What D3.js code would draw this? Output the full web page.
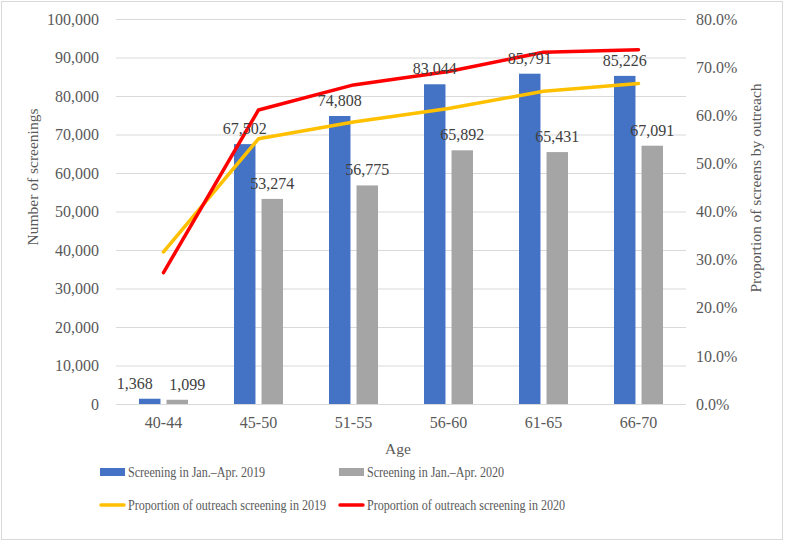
<!DOCTYPE html>
<html><head><meta charset="utf-8">
<script src="https://cdn.jsdelivr.net/npm/d3@7"></script>
<style>body{margin:0;background:#fff}svg{display:block}</style>
</head><body>
<svg id="c" width="788" height="542"></svg>
<script>
const categories = ["40-44","45-50","51-55","56-60","61-65","66-70"];
const screening2019 = [1368,67502,74808,83044,85791,85226];
const screening2020 = [1099,53274,56775,65892,65431,67091];
const outreach2019 = [31.6,55.1,58.6,61.4,65.0,66.6];
const outreach2020 = [27.3,61.1,66.3,69.1,73.1,73.6];
const leftTicks = [0,10000,20000,30000,40000,50000,60000,70000,80000,90000,100000];
const rightTicks = [0,10,20,30,40,50,60,70,80];
const seriesNames = ["Screening in Jan.\u2013Apr. 2019","Screening in Jan.\u2013Apr. 2020","Proportion of outreach screening in 2019","Proportion of outreach screening in 2020"];

const svg = d3.select("#c");
const FF = "Liberation Serif";
const L = 116, R = 686, T = 19, B = 404;

svg.append("rect").attr("x",1.5).attr("y",1.5).attr("width",781).attr("height",538)
  .attr("fill","#fff").attr("stroke","#d9d9d9").attr("stroke-width",1);

const x = d3.scaleBand().domain(categories).range([L,R]);
const y = d3.scaleLinear().domain([0,100000]).range([B,T]);
const y2 = d3.scaleLinear().domain([0,80]).range([B,T]);
const inner = d3.scaleBand().domain(["a","b"]).range([23,x.bandwidth()-23]).paddingInner(0.22);

svg.append("g").selectAll("line").data(leftTicks).join("line")
  .attr("x1",L).attr("x2",R).attr("y1",d=>y(d)+0.5).attr("y2",d=>y(d)+0.5)
  .attr("stroke","#d9d9d9").attr("stroke-width",1);

function styleAxis(g){
  g.attr("font-family",FF).attr("font-size",16);
  g.select(".domain").remove();
  g.selectAll("text").attr("font-family",FF).attr("font-size",16).attr("fill","#595959");
}
const ga = svg.append("g").attr("transform",`translate(${L-17},0)`)
  .call(d3.axisLeft(y).tickValues(leftTicks).tickSize(0).tickPadding(0).tickFormat(d3.format(",")));
styleAxis(ga);
const gb = svg.append("g").attr("transform",`translate(${R+10},0)`)
  .call(d3.axisRight(y2).tickValues(rightTicks).tickSize(0).tickPadding(0).tickFormat(d=>d.toFixed(1)+"%"));
styleAxis(gb);
const gx = svg.append("g").attr("transform",`translate(0,${B+13})`)
  .call(d3.axisBottom(x).tickSize(0).tickPadding(0));
styleAxis(gx);

const g = svg.append("g");
g.selectAll(".b19").data(categories).join("rect").attr("class","b19")
  .attr("x",(d)=>x(d)+inner("a")).attr("width",inner.bandwidth())
  .attr("y",(d,i)=>y(screening2019[i])).attr("height",(d,i)=>B-y(screening2019[i]))
  .attr("fill","#4472c4");
g.selectAll(".b20").data(categories).join("rect").attr("class","b20")
  .attr("x",(d)=>x(d)+inner("b")).attr("width",inner.bandwidth())
  .attr("y",(d,i)=>y(screening2020[i])).attr("height",(d,i)=>B-y(screening2020[i]))
  .attr("fill","#a5a5a5");

const cx = d=>x(d)+x.bandwidth()/2;
const line = d3.line().x((d,i)=>cx(categories[i])).y(d=>y2(d));
svg.append("path").datum(outreach2019).attr("d",line).attr("fill","none")
  .attr("stroke","#ffc000").attr("stroke-width",3.5).attr("stroke-linejoin","round").attr("stroke-linecap","round");
svg.append("path").datum(outreach2020).attr("d",line).attr("fill","none")
  .attr("stroke","#ff0000").attr("stroke-width",3.5).attr("stroke-linejoin","round").attr("stroke-linecap","round");

// data labels (small labels nudged apart so they do not collide, as in the original)
const fmt = d3.format(",");
const nudge = (i, side) => (i === 0 ? (side === "a" ? -15 : 10) : 0);
const lab = svg.append("g");
lab.selectAll(".l19").data(categories).join("text").attr("class","l19")
  .attr("font-family",FF).attr("font-size",16).attr("fill","#404040").attr("text-anchor","middle")
  .attr("x",(d,i)=>x(d)+inner("a")+inner.bandwidth()/2+nudge(i,"a"))
  .attr("y",(d,i)=>y(screening2019[i])-10).text((d,i)=>fmt(screening2019[i]));
lab.selectAll(".l20").data(categories).join("text").attr("class","l20")
  .attr("font-family",FF).attr("font-size",16).attr("fill","#404040").attr("text-anchor","middle")
  .attr("x",(d,i)=>x(d)+inner("b")+inner.bandwidth()/2+nudge(i,"b"))
  .attr("y",(d,i)=>y(screening2020[i])-10).text((d,i)=>fmt(screening2020[i]));

function title(t,tr){
  return svg.append("text").attr("transform",tr).attr("text-anchor","middle")
    .attr("font-family",FF).attr("font-size",15.5).attr("fill","#595959").text(t);
}
title("Number of screenings","translate(38,177) rotate(-90)");
title("Proportion of screens by outreach","translate(761,188) rotate(-90)");
title("Age","translate(398,454)");

const leg = [
  {name:seriesNames[0], type:"bar", color:"#4472c4", x:100, y:472},
  {name:seriesNames[1], type:"bar", color:"#a5a5a5", x:339, y:472},
  {name:seriesNames[2], type:"line", color:"#ffc000", x:100, y:505},
  {name:seriesNames[3], type:"line", color:"#ff0000", x:339, y:505}
];
const lg = svg.append("g");
leg.forEach(d=>{
  if(d.type==="bar") lg.append("rect").attr("x",d.x).attr("y",d.y-4).attr("width",25).attr("height",8).attr("fill",d.color);
  else lg.append("line").attr("x1",d.x+1).attr("x2",d.x+24).attr("y1",d.y).attr("y2",d.y).attr("stroke",d.color).attr("stroke-width",3.5).attr("stroke-linecap","round");
  lg.append("text").attr("transform",`translate(${d.x+28},${d.y+5}) scale(0.78,1)`)
    .attr("font-family",FF).attr("font-size",15.5)
    .attr("fill","#595959").text(d.name);
});
</script>
</body></html>
